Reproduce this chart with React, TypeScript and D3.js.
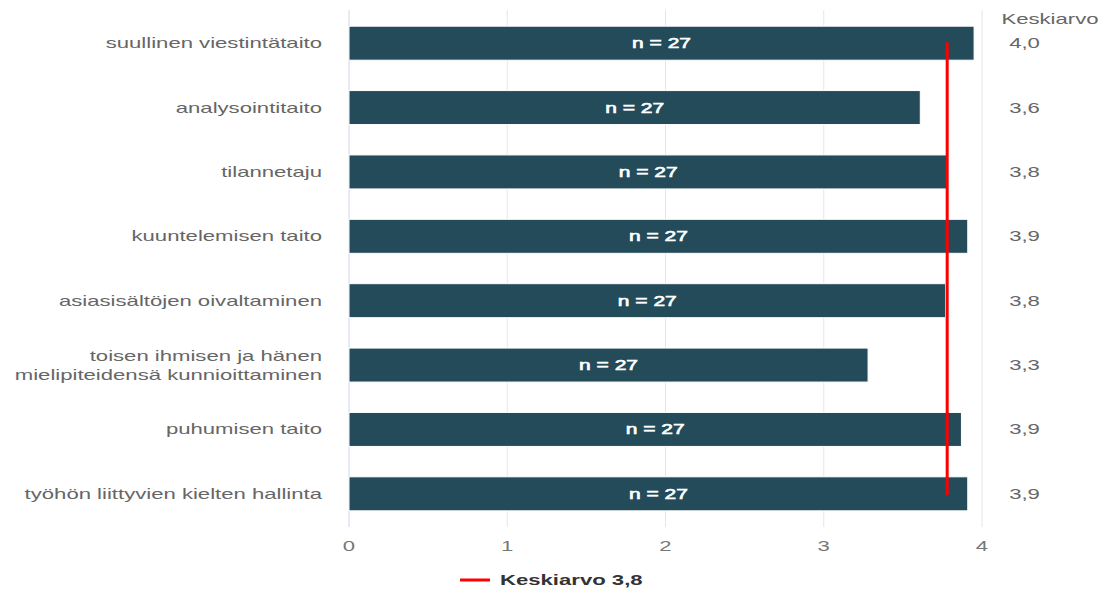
import React from "react";
import * as d3 from "d3";

const categories = [
  "suullinen viestintätaito",
  "analysointitaito",
  "tilannetaju",
  "kuuntelemisen taito",
  "asiasisältöjen oivaltaminen",
  "toisen ihmisen ja hänen|mielipiteidensä kunnioittaminen",
  "puhumisen taito",
  "työhön liittyvien kielten hallinta",
];
const values = [3.95, 3.61, 3.78, 3.91, 3.77, 3.28, 3.87, 3.91];
const counts = [27, 27, 27, 27, 27, 27, 27, 27];
const meanLabels = ["4,0", "3,6", "3,8", "3,9", "3,8", "3,3", "3,9", "3,9"];
const xTicks = [0, 1, 2, 3, 4];
const overallMean = 3.78;
const overallMeanLabel = "3,8";

const W = 1107;
const H = 590;
const FONT = "'Liberation Sans', Arial, sans-serif";
const SX = 1.58;

function T(props: {
  x: number;
  y: number;
  anchor?: "start" | "middle" | "end";
  size?: number;
  weight?: string;
  fill?: string;
  sx?: number;
  stroke?: string;
  sw?: number;
  children: React.ReactNode;
}) {
  const {
    x,
    y,
    anchor = "start",
    size = 14,
    weight = "normal",
    fill = "#666",
    sx = SX,
    stroke,
    sw,
  } = props;
  return (
    <text
      transform={`translate(${x},${y}) scale(${sx},1)`}
      textAnchor={anchor}
      fontSize={size}
      fontWeight={weight}
      fill={fill}
      stroke={stroke}
      strokeWidth={sw}
    >
      {props.children}
    </text>
  );
}

export default function App() {
  const x = d3.scaleLinear().domain([0, 4]).range([349, 982]);
  const y = d3
    .scaleBand<string>()
    .domain(categories)
    .range([11, 526])
    .paddingInner(0.472)
    .paddingOuter(0.236);
  const bw = y.bandwidth();
  const first = categories[0];
  const last = categories[categories.length - 1];
  const yTop = (y(first) as number) + bw / 2;
  const yBot = (y(last) as number) + bw / 2;

  return (
    <div style={{ position: "absolute", left: 0, top: 0 }}>
      <svg width={W} height={H} style={{ display: "block", fontFamily: FONT }}>
        <rect width={W} height={H} fill="#fff" />
        {xTicks.map((t) => (
          <line
            key={"g" + t}
            x1={x(t)}
            x2={x(t)}
            y1={10}
            y2={527}
            stroke={t === 0 ? "#ccd6eb" : "#e6e6e6"}
            strokeWidth={1}
          />
        ))}
        {xTicks.map((t) => (
          <T key={"t" + t} x={x(t)} y={551} anchor="middle" fill="#777">
            {t}
          </T>
        ))}
        {categories.map((c, i) => {
          const cy = (y(c) as number) + bw / 2;
          const lines = c.split("|");
          return (
            <g key={c}>
              <rect
                x={x(0)}
                y={y(c) as number}
                width={x(values[i]) - x(0)}
                height={bw}
                fill="#244b5a"
                stroke="#fff"
                strokeWidth={1}
              />
              <T
                x={(x(0) + x(values[i])) / 2}
                y={cy + 5}
                anchor="middle"
                fill="#fff"
                stroke="#fff"
                sw={0.6}
                sx={1.5}
              >
                {"n = " + counts[i]}
              </T>
              {lines.map((l, j) => (
                <T
                  key={j}
                  x={322}
                  y={cy + 5 + (j - (lines.length - 1) / 2) * 19}
                  anchor="end"
                >
                  {l}
                </T>
              ))}
              <T x={1024.5} y={cy + 5} anchor="middle">
                {meanLabels[i]}
              </T>
            </g>
          );
        })}
        <line
          x1={x(overallMean)}
          x2={x(overallMean)}
          y1={yTop}
          y2={yBot}
          stroke="#ff0000"
          strokeWidth={3}
          strokeLinecap="round"
        />
        <T x={1050} y={24} anchor="middle">
          Keskiarvo
        </T>
        <line x1={460} x2={490} y1={580} y2={580} stroke="#ff0000" strokeWidth={3} />
        <T x={500} y={585} weight="bold" fill="#333">
          {"Keskiarvo " + overallMeanLabel}
        </T>
      </svg>
    </div>
  );
}
